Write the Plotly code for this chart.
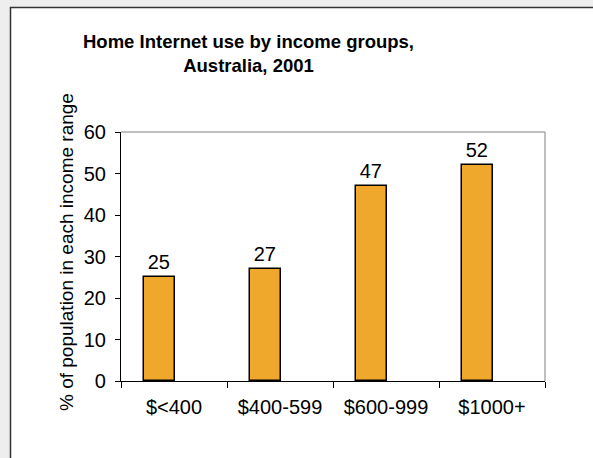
import plotly.graph_objects as go

categories = ["$<400", "$400-599", "$600-999", "$1000+"]
values = [25, 27, 47, 52]
y_ticks = [0, 10, 20, 30, 40, 50, 60]

W, H = 593, 458
L, R, T, B = 121, 48, 132, 77
PW, PH = W - L - R, H - T - B


def px_x(px):
    return (px - L) / PW


def px_y(py):
    return (H - B - py) / PH


fig = go.Figure()
# bars sit left of the category centre, as in the original Excel chart
fig.add_trace(go.Bar(
    x=categories, y=values, width=0.29, offset=-0.285,
    marker=dict(color="#F0A82C", line=dict(color="black", width=1.5)),
    text=[str(v) for v in values], textposition="outside",
    textfont=dict(size=20, color="black"), cliponaxis=False,
))

# white card with dark border on grey page
fig.add_shape(type="rect", xref="paper", yref="paper",
              x0=px_x(10.5), x1=px_x(W + 20), y0=px_y(H + 20), y1=px_y(7.5),
              line=dict(color="#333333", width=1.5), fillcolor="white", layer="below")
# grey top/right frame of plot area
fig.add_shape(type="line", xref="paper", yref="paper", x0=0, x1=1, y0=1, y1=1,
              line=dict(color="#aaaaaa", width=1.5))
fig.add_shape(type="line", xref="paper", yref="paper", x0=1, x1=1, y0=0, y1=1,
              line=dict(color="#aaaaaa", width=1.5))

fig.add_annotation(text="<b>Home Internet use by income groups,<br>Australia, 2001</b>",
                   xref="paper", yref="paper", x=px_x(248), y=px_y(53),
                   xanchor="center", yanchor="middle",
                   showarrow=False, font=dict(size=18.5, color="black"), align="center")
fig.add_annotation(text="% of population in each income range", textangle=-90,
                   xref="paper", yref="paper", x=px_x(66), y=px_y(252),
                   xanchor="center", yanchor="middle",
                   showarrow=False, font=dict(size=19, color="black"))

fig.update_layout(
    width=W, height=H,
    margin=dict(l=L, r=R, t=T, b=B),
    paper_bgcolor="#eeeeee", plot_bgcolor="white",
    font=dict(family="Liberation Sans, Arial", color="black"),
    showlegend=False,
    bargap=0,
)
fig.update_xaxes(showline=True, linecolor="black", linewidth=1.2,
                 ticks="outside", tickson="boundaries", ticklen=6, tickcolor="black",
                 tickfont=dict(size=20), ticklabelstandoff=8, showgrid=False)
fig.update_yaxes(range=[0, 60], tickvals=y_ticks, showline=True, linecolor="black", linewidth=1.2,
                 ticks="outside", ticklen=5, tickcolor="black", tickfont=dict(size=20),
                 ticklabelstandoff=5, showgrid=False, zeroline=False)

fig.write_html("out.html", config={"displayModeBar": False},
               post_script="document.body.style.margin='0';")
